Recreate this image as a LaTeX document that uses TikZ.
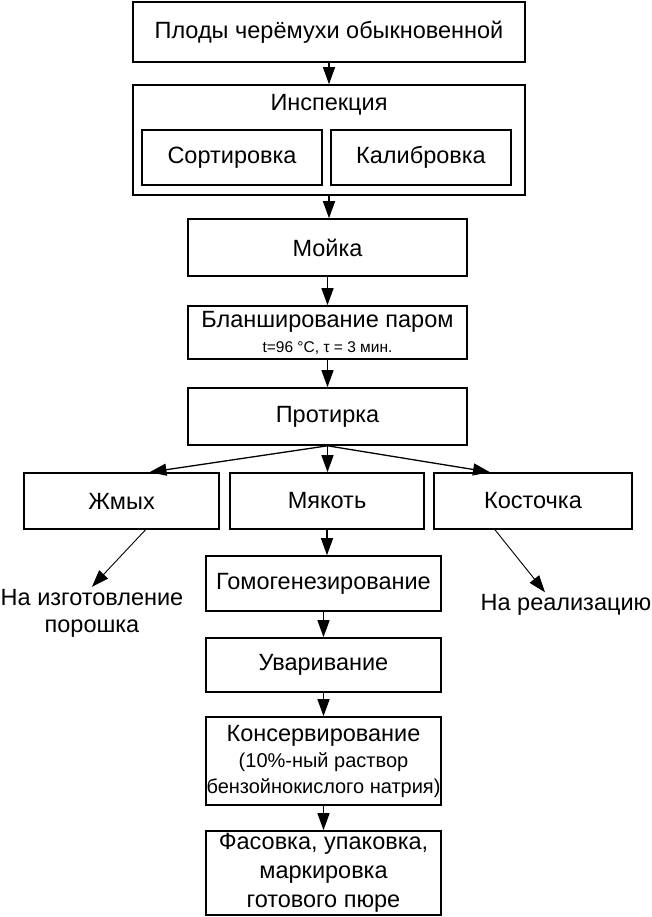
\documentclass[tikz,border=0pt]{standalone}
\usepackage{fontspec}
\setmainfont{Liberation Sans}
\usetikzlibrary{arrows.meta,calc}

\newcommand{\subfnt}{\fontsize{20}{25}\selectfont}
\newcommand{\minifnt}{\fontsize{15.5}{22}\selectfont}

\begin{document}
\begin{tikzpicture}[x=1pt,y=-1pt,
		box/.style={draw,line width=1.6pt,inner sep=0pt,align=center,font=\fontsize{23.5}{28}\selectfont},
		txt/.style={inner sep=2pt,align=center,font=\fontsize{23.5}{27}\selectfont},
		flow/.style={-{Triangle[length=17pt,width=12pt]},line width=1.3pt},
		side/.style={-{Triangle[length=17pt,width=12pt]},line width=0.9pt}]
		\useasboundingbox (0,0) rectangle (652,917);

		\node[box,minimum width=392,minimum height=60] (plody) at (329,32) {Плоды черёмухи обыкновенной};
		\node[box,minimum width=392,minimum height=110] (insp) at (329,140) {};
		\node[txt] (insplbl) at (329,105) {Инспекция};
		\node[box,minimum width=180,minimum height=55] (sort) at (232,157.5) {Сортировка};
		\node[box,minimum width=180,minimum height=55] (calib) at (421,157.5) {Калибровка};
		\node[box,minimum width=279,minimum height=57] (moika) at (327.5,247.5) {Мойка};
		\node[box,minimum width=279,minimum height=53] (blansh) at (327.5,332.5) {Бланширование паром\\[-3pt]{\minifnt t=96 °C, τ = 3 мин.}};
		\node[box,minimum width=279,minimum height=57] (protir) at (327.5,416.5) {Протирка};

		\node[box,minimum width=195,minimum height=56] (zhmykh) at (121.5,501) {Жмых};
		\node[box,minimum width=194,minimum height=56] (myakot) at (327,501) {Мякоть};
		\node[box,minimum width=198,minimum height=56] (kost) at (533,501) {Косточка};
		\node[txt] (poroshok) at (92,613) {На изготовление\\порошка};
		\node[txt] (realiz) at (566,605) {На реализацию};

		\node[box,minimum width=235,minimum height=55] (gomog) at (323.5,583.5) {Гомогенезирование};
		\node[box,minimum width=235,minimum height=54] (uvar) at (323.5,665) {Уваривание};
		\node[box,minimum width=235,minimum height=88] (konserv) at (323.5,761) {Консервирование\\[-2pt]{\subfnt (10\%-ный раствор}\\[-2pt]{\subfnt бензойнокислого натрия)}};
		\node[box,minimum width=235,minimum height=84] (fasov) at (323.5,873) {Фасовка, упаковка,\\[1pt]маркировка\\[1pt]готового пюре};

		\draw[flow] (plody.south) -- (plody.south |- insp.north);
		\draw[flow] (insp.south) -- (insp.south |- moika.north);
		\draw[flow] (moika.south) -- (moika.south |- blansh.north);
		\draw[flow] (blansh.south) -- (blansh.south |- protir.north);
		\draw[flow] (protir.south) -- ($(zhmykh.north)+(28,0)$);
		\draw[flow] (protir.south) -- (protir.south |- myakot.north);
		\draw[flow] (protir.south) -- ($(kost.north)+(-43,0)$);
		\draw[side] ($(zhmykh.south)+(24,0)$) -- (poroshok.north);
		\draw[side] ($(kost.south)+(-38,0)$) -- ($(realiz.north)+(-21,0)$);
		\draw[flow] (myakot.south) -- (myakot.south |- gomog.north);
		\draw[flow] (gomog.south) -- (uvar.north);
		\draw[flow] (uvar.south) -- (konserv.north);
		\draw[flow] (konserv.south) -- (fasov.north);
\end{tikzpicture}
\end{document}
